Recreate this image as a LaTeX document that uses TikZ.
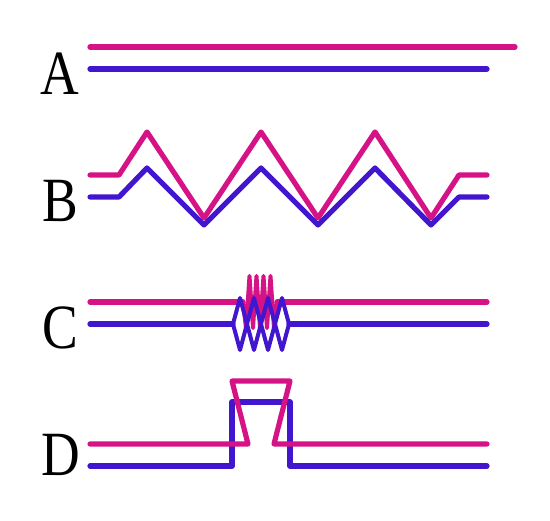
\documentclass[tikz,border=0pt]{standalone}
\usepackage{fontspec}
\setmainfont{Liberation Serif}
\definecolor{mag}{RGB}{214,18,135}
\definecolor{vio}{RGB}{66,22,206}
\begin{document}
\begin{tikzpicture}[x=1pt,y=-1pt,
  wave/.style={line width=5.2pt, line cap=round, line join=round},
  thin wave/.style={line width=4pt, line cap=round, line join=round},
  lbl/.style={font=\fontsize{63}{63}\selectfont, anchor=base, xscale=0.85, inner sep=0pt}]
\useasboundingbox (0,0) rectangle (550,521);
\fill[white] (0,0) rectangle (550,521);
% labels
\node[lbl] (la) at (60,95) {A};
\node[lbl] (lb) at (60,222) {B};
\node[lbl] (lc) at (60,349) {C};
\node[lbl] (ld) at (61,476) {D};
% A
\draw[wave,mag] (90,47) -- (515,47);
\draw[wave,vio] (90,69) -- (487,69);
% B
\draw[wave,mag] (90,175) -- (119,175) -- (147,132) -- (204,218) -- (261,132) -- (318,218) -- (375,132) -- (431,218) -- (459,175) -- (487,175);
\draw[wave,vio] (90,197) -- (119,197) -- (147,168) -- (204,225) -- (261,168) -- (318,225) -- (375,168) -- (431,225) -- (459,197) -- (487,197);
% C
\draw[wave,mag] (90,302) -- (243,302);
\draw[wave,mag] (277,302) -- (487,302);
\draw[thin wave,mag] (243,302) -- (246,328) -- (249.5,276) -- (253,328) -- (256.5,276) -- (260,328) -- (263.5,276) -- (267,328) -- (270.5,276) -- (274,328) -- (277,302);
\draw[wave,vio] (90,324) -- (233,324);
\draw[wave,vio] (289,324) -- (487,324);
\draw[thin wave,vio] (233,324) -- (240,298) -- (254,350) -- (268,298) -- (282,350) -- (289,324);
\draw[thin wave,vio] (233,324) -- (240,350) -- (254,298) -- (268,350) -- (282,298) -- (289,324);
% D
\draw[wave,vio] (90,466) -- (232,466) -- (232,402) -- (290,402) -- (290,466) -- (487,466);
\draw[wave,mag] (90,444) -- (248,444) -- (232,381) -- (290,381) -- (274,444) -- (487,444);
\end{tikzpicture}
\end{document}
